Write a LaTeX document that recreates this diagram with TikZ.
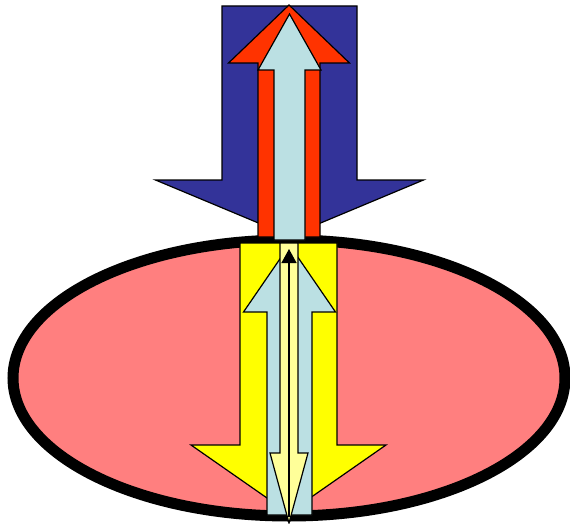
\documentclass[tikz,border=0pt]{standalone}
\usepackage{tikz}
\usepackage{xcolor}
\usetikzlibrary{arrows.meta}
\definecolor{navyarr}{HTML}{333399}
\definecolor{redarr}{HTML}{FF3300}
\definecolor{paleblue}{HTML}{BBE0E3}
\definecolor{yellowarr}{HTML}{FFFF00}
\definecolor{paleyellow}{HTML}{FFFF99}
\definecolor{rosebg}{HTML}{FF7F7F}
\tikzset{
  outline/.style={draw=black,line width=1.2pt,line join=miter},
  bodyshape/.style={draw=black,fill=rosebg,line width=11pt},
  thinarr/.style={-{Triangle[length=14pt,width=15pt]},line width=1.3pt,draw=black}
}
% block arrow: centre x, tail y, head-base y, tip y, shaft half width, head half width
\newcommand{\blockarrow}[7][]{%
  \draw[outline,#1] (#2-#6,#3) -- (#2-#6,#4) -- (#2-#7,#4) -- (#2,#5)
    -- (#2+#7,#4) -- (#2+#6,#4) -- (#2+#6,#3) -- cycle;}

\begin{document}
\begin{tikzpicture}[x=1pt,y=-1pt]
    \path[use as bounding box] (0,0) rectangle (570,524);
    \draw[bodyshape] (289,378) ellipse [x radius=276, y radius=138];

    % arrows above the body
    \blockarrow[fill=navyarr]{289.5}{6}{180}{236}{67.5}{134}
    \blockarrow[fill=redarr]{289}{237}{63}{5}{31}{60.5}
    \blockarrow[fill=paleblue]{289.5}{240}{70}{14}{15.5}{31.5}

    % arrows inside the body
    \blockarrow[fill=yellowarr]{288.5}{243}{445}{513}{48.5}{97.5}
    \blockarrow[fill=paleblue]{289.5}{515}{312}{245}{22.5}{46}
    \blockarrow[fill=paleyellow]{289}{243}{453}{523}{9}{19}
    \coordinate (tailpt) at (289,517);
    \coordinate (tippt) at (289,249);
    \draw[thinarr] (tailpt) -- (tippt);
\end{tikzpicture}
\end{document}
